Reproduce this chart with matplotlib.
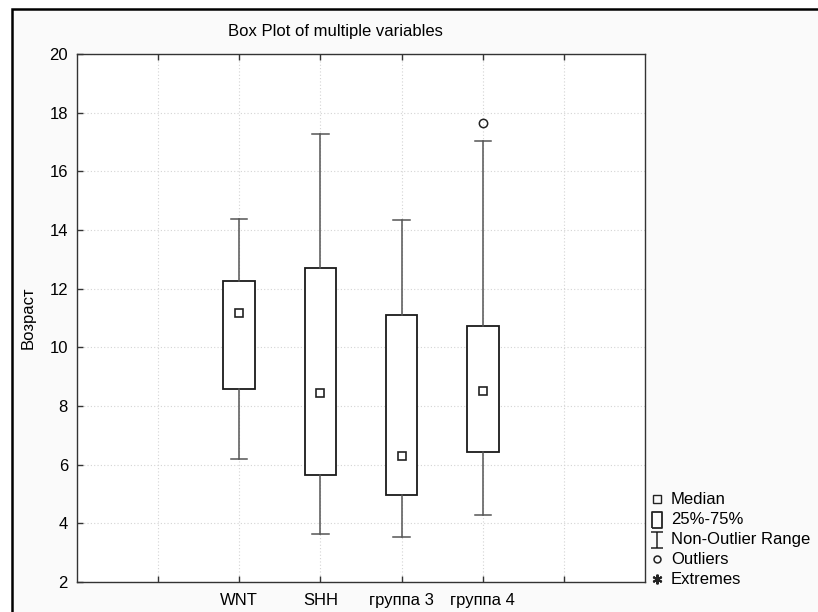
import numpy as np
import matplotlib
matplotlib.use("Agg")
import matplotlib.pyplot as plt
from matplotlib.patches import Rectangle
from matplotlib.lines import Line2D
from matplotlib.path import Path

plt.rcParams['font.family'] = ['Liberation Sans', 'DejaVu Sans']

# Box plot summary values
groups = ["WNT", "SHH", "группа 3", "группа 4"]
medians = [11.18, 8.45, 6.30, 8.50]
q1 = [8.58, 5.65, 4.97, 6.44]
q3 = [12.27, 12.72, 11.11, 10.74]
whis_lo = [6.19, 3.65, 3.54, 4.27]
whis_hi = [14.38, 17.28, 14.34, 17.04]
outliers = [[], [], [], [17.64]]
legend_labels = ["Median", "25%-75%", "Non-Outlier Range", "Outliers", "Extremes"]

W, H = 818, 612
fig = plt.figure(figsize=(W / 100, H / 100), dpi=100, facecolor="white")

# grey panel, with a black frame on its top and left edges
x0, y0 = 12 / W, 1 - 9 / H
fig.add_artist(Rectangle((x0, 0), 1 - x0, y0, transform=fig.transFigure,
                         facecolor="#fafafa", edgecolor="none", zorder=-10))
fig.add_artist(Line2D([x0, x0, 1], [0, y0, y0], color="black", linewidth=1.8,
                      solid_joinstyle="miter", transform=fig.transFigure, zorder=-9))

ax = fig.add_axes([77 / W, 1 - 582 / H, 568 / W, 528 / H])
ax.set_facecolor("white")

pos = np.arange(len(groups)) + 2
stats = [dict(med=m, q1=a, q3=b, whislo=lo, whishi=hi, fliers=f)
         for m, a, b, lo, hi, f in zip(medians, q1, q3, whis_lo, whis_hi, outliers)]
ax.bxp(stats, positions=pos, widths=0.39, capwidths=0.2, patch_artist=True,
       boxprops=dict(facecolor="white", edgecolor="#1a1a1a", linewidth=1.3),
       whiskerprops=dict(color="#555555", linewidth=1.1),
       capprops=dict(color="#555555", linewidth=1.1),
       medianprops=dict(linestyle="none"),
       flierprops=dict(marker="o", markerfacecolor="none", markeredgecolor="#222222",
                       markersize=6, markeredgewidth=1.1))
ax.plot(pos, medians, "s", ls="none", ms=5.5, mfc="white", mec="#222222", mew=1.2, zorder=5)

ax.set_xlim(0, 7)
ax.set_ylim(2, 20)
ax.set_xticks(np.arange(1, 7))
ax.set_xticklabels([""] + groups + [""])
ax.set_yticks(np.arange(2, 21, 2))
ax.tick_params(direction="in", length=4, width=1, color="#333333", labelsize=12,
               top=True, right=False)
ax.tick_params(axis="x", pad=8)
ax.tick_params(axis="y", pad=6.5)
ax.grid(True, color="#d4d4d4", linestyle=(0, (1, 2)), linewidth=0.8)
ax.set_axisbelow(True)
for s in ax.spines.values():
    s.set_color("#333333")
    s.set_linewidth(1)

fig.text(335 / W, 1 - 36 / H, "Box Plot of multiple variables", ha="center", va="baseline", fontsize=12)
fig.text(28.5 / W, 1 - 318 / H, "Возраст", rotation=90, ha="center", va="center", fontsize=12)

# legend drawn by hand, Statistica style
box_mk = Path([(-0.33, -0.5), (0.33, -0.5), (0.33, 0.5), (-0.33, 0.5), (-0.33, -0.5)])
range_mk = Path([(-0.4, 0.5), (0.4, 0.5), (0, 0.5), (0, -0.5), (-0.4, -0.5), (0.4, -0.5)],
                [Path.MOVETO, Path.LINETO, Path.MOVETO, Path.LINETO, Path.MOVETO, Path.LINETO])
markers = [("s", 5.5, 1.0), (box_mk, 11.5, 1.3), (range_mk, 11, 1.1), ("o", 5, 1.1), ((6, 2, 0), 7, 1.5)]
legend_y = [499, 520, 539.5, 559, 579]
for (mk, ms, mew), label, y in zip(markers, legend_labels, legend_y):
    fig.add_artist(Line2D([657 / W], [1 - y / H], marker=mk, markersize=ms, markeredgewidth=mew,
                          markerfacecolor="none", markeredgecolor="#222222", linestyle="none",
                          transform=fig.transFigure))
    fig.text(671 / W, 1 - y / H, label, va="center", ha="left", fontsize=12)

fig.savefig("out.png", dpi=100)
